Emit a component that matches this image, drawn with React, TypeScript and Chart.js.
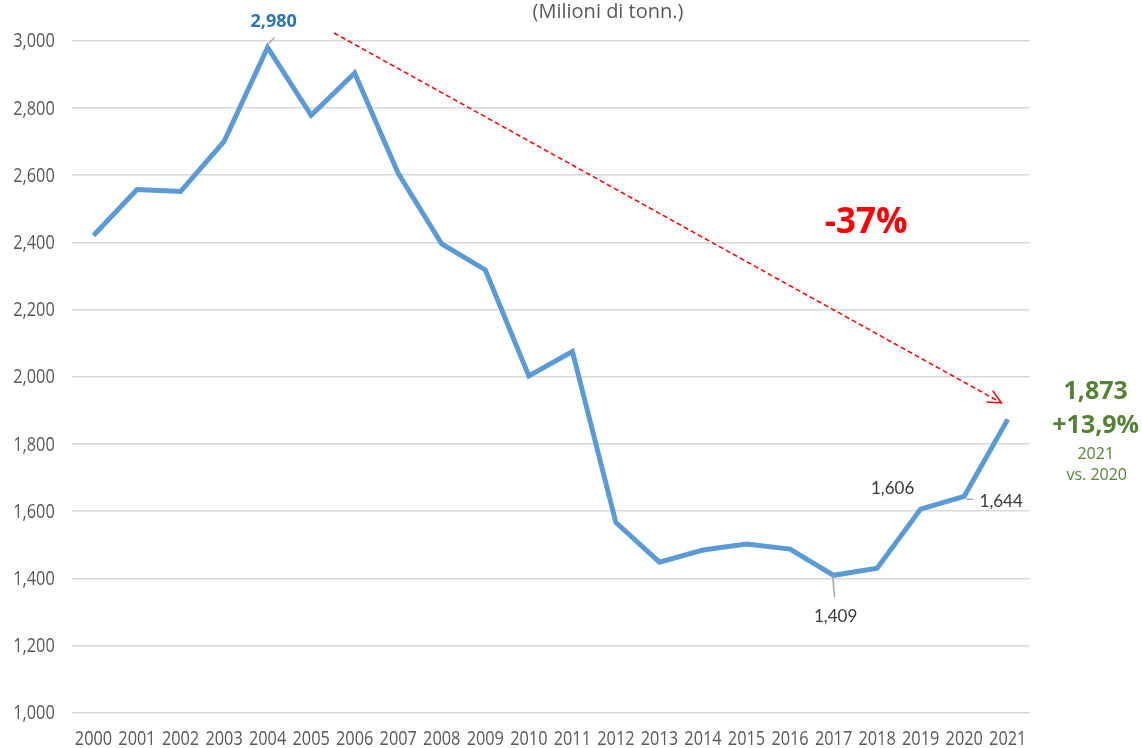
import React, { useEffect, useRef } from "react";
import { Chart, registerables } from "chart.js";

Chart.register(...registerables);

const years = ["2000","2001","2002","2003","2004","2005","2006","2007","2008","2009","2010","2011","2012","2013","2014","2015","2016","2017","2018","2019","2020","2021"];
const values = [2420, 2557, 2551, 2700, 2980, 2778, 2904, 2605, 2395, 2318, 2002, 2075, 1566, 1448, 1484, 1502, 1487, 1409, 1430, 1606, 1644, 1873];
const yTicks = [1000, 1200, 1400, 1600, 1800, 2000, 2200, 2400, 2600, 2800, 3000];

const SANS = "'Open Sans', 'Noto Sans', sans-serif";
const LATO = "Lato, 'Open Sans', sans-serif";
const TICK_FONT = `20px ${SANS}`;
const TICK_SQUEEZE = 0.815;

const tickPlugin = {
  id: "narrowTicks",
  afterDraw(chart: any) {
    const ctx = chart.ctx as CanvasRenderingContext2D;
    const xs = chart.scales.x;
    const ys = chart.scales.y;
    const area = chart.chartArea;
    ctx.save();
    ctx.font = TICK_FONT;
    ctx.fillStyle = "#595959";
    ctx.textBaseline = "middle";
    const draw = (t: string, x: number, y: number, align: "right" | "center") => {
      ctx.save();
      ctx.translate(x, y);
      ctx.scale(TICK_SQUEEZE, 1);
      ctx.textAlign = align;
      ctx.fillText(t, 0, 0);
      ctx.restore();
    };
    yTicks.forEach((v) => draw(v.toLocaleString("en-US"), area.left - 17, ys.getPixelForValue(v) + 1, "right"));
    years.forEach((y, i) => draw(y, xs.getPixelForValue(i), area.bottom + 27, "center"));
    ctx.restore();
  },
};

const annotationsPlugin = {
  id: "annots",
  afterDatasetsDraw(chart: any) {
    const ctx = chart.ctx as CanvasRenderingContext2D;
    const xs = chart.scales.x;
    const ys = chart.scales.y;
    const px = (i: number) => xs.getPixelForValue(i);
    const py = (v: number) => ys.getPixelForValue(v);
    const text = (t: string, x: number, y: number, font: string, color: string) => {
      ctx.font = font;
      ctx.fillStyle = color;
      ctx.textAlign = "center";
      ctx.textBaseline = "middle";
      ctx.fillText(t, x, y);
    };
    const line = (x1: number, y1: number, x2: number, y2: number, color: string, w: number) => {
      ctx.beginPath();
      ctx.strokeStyle = color;
      ctx.lineWidth = w;
      ctx.moveTo(x1, y1);
      ctx.lineTo(x2, y2);
      ctx.stroke();
    };
    ctx.save();

    // title
    text("(Milioni di tonn.)", 608, 12, `20px ${SANS}`, "#595959");

    // peak label 2004
    const i04 = years.indexOf("2004");
    const x04 = px(i04), y04 = py(values[i04]);
    line(x04 + 7, y04 - 10, x04 + 1, y04 - 4, "#a6a6a6", 1.5);
    text("2,980", x04 + 6, y04 - 26, `bold 18px ${SANS}`, "#2e75b6");

    // 2017 label
    const i17 = years.indexOf("2017");
    const x17 = px(i17), y17 = py(values[i17]);
    line(x17 - 1, y17, x17 + 1, y17 + 22, "#a6a6a6", 1.5);
    text("1,409", x17 + 2, y17 + 41, `17px ${LATO}`, "#3a3a3a");

    // 2019 label
    const i19 = years.indexOf("2019");
    text("1,606", px(i19) - 28, py(values[i19]) - 21, `17px ${LATO}`, "#3a3a3a");

    // 2020 label
    const i20 = years.indexOf("2020");
    const x20 = px(i20), y20 = py(values[i20]);
    line(x20 + 2, y20 + 3, x20 + 9, y20 + 3, "#a6a6a6", 1.5);
    text("1,644", x20 + 37, y20 + 5, `17px ${LATO}`, "#3a3a3a");

    // 2021 green block
    const i21 = years.indexOf("2021");
    const x21 = px(i21) + 88;
    const y21 = py(values[i21]);
    text("1,873", x21, y21 - 27, `bold 25px ${SANS}`, "#548235");
    text("+13,9%", x21, y21 + 7, `bold 25px ${SANS}`, "#548235");
    text("2021", x21, y21 + 35, `16px ${SANS}`, "#548235");
    text("vs. 2020", x21 + 1, y21 + 56, `16px ${SANS}`, "#548235");

    // dashed arrow
    const sx = px(5.525), sy = py(3023);
    const ex = px(20.856), ey = py(1922);
    ctx.beginPath();
    ctx.setLineDash([5, 3]);
    ctx.strokeStyle = "#ff0000";
    ctx.lineWidth = 1.5;
    ctx.moveTo(sx, sy);
    ctx.lineTo(ex, ey);
    ctx.stroke();
    ctx.setLineDash([]);
    const ang = Math.atan2(ey - sy, ex - sx);
    const L = 15;
    const spread = 0.44;
    ctx.beginPath();
    ctx.moveTo(ex - L * Math.cos(ang - spread), ey - L * Math.sin(ang - spread));
    ctx.lineTo(ex, ey);
    ctx.lineTo(ex - L * Math.cos(ang + spread), ey - L * Math.sin(ang + spread));
    ctx.stroke();

    // -37%
    text("-37%", px(17.75), py(2457), `bold 35px ${SANS}`, "#ff0000");

    ctx.restore();
  },
};

export default function App() {
  const ref = useRef<HTMLCanvasElement>(null);
  useEffect(() => {
    if (!ref.current) return;
    const chart = new Chart(ref.current, {
      type: "line",
      data: {
        labels: years,
        datasets: [
          {
            data: values,
            borderColor: "#5b9bd5",
            borderWidth: 5,
            pointRadius: 0,
            tension: 0,
            fill: false,
          },
        ],
      },
      options: {
        animation: false,
        responsive: false,
        maintainAspectRatio: false,
        layout: { padding: { top: 40.7, right: 112.5, bottom: 0, left: 0 } },
        plugins: { legend: { display: false }, tooltip: { enabled: false } },
        scales: {
          x: {
            offset: true,
            grid: { display: false, drawTicks: false },
            border: { display: false },
            ticks: { display: false, autoSkip: false, maxRotation: 0 },
            afterFit: (s: any) => { s.height = 35.3; },
          },
          y: {
            min: 1000,
            max: 3000,
            afterBuildTicks: (s: any) => { s.ticks = yTicks.map((v) => ({ value: v })); },
            grid: { color: "#d9d9d9", lineWidth: 1.5, drawTicks: false },
            border: { display: false },
            ticks: { display: false },
            afterFit: (s: any) => { s.width = 71.7; },
          },
        },
      },
      plugins: [annotationsPlugin, tickPlugin],
    });
    return () => chart.destroy();
  }, []);
  return (
    <div style={{ position: "absolute", left: 0, top: 0, width: 1142, height: 748, background: "#fff" }}>
      <canvas ref={ref} width={1142} height={748} style={{ display: "block" }} />
    </div>
  );
}
